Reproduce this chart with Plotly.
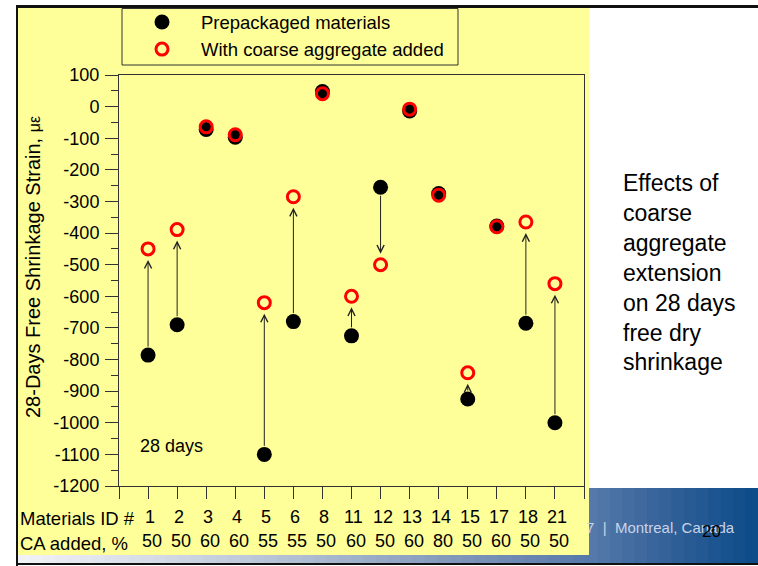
import plotly.graph_objects as go

# ---------------- data ----------------
material_ids = ['1', '2', '3', '4', '5', '6', '8', '11', '12', '13', '14', '15', '17', '18', '21']
ca_added = ['50', '50', '60', '60', '55', '55', '50', '60', '50', '60', '80', '50', '60', '50', '50']
prepackaged = [-786, -690, -72, -97, -1100, -680, 48, -725, -255, -14, -275, -925, -378, -685, -1000]
with_ca = [-450, -389, -64, -89, -620, -285, 41, -600, -500, -8, -280, -842, -380, -365, -560]
y_ticks = list(range(-1200, 101, 100))
y_ticktext = [str(v).replace('\u2212', '-') for v in y_ticks]

positions = list(range(1, len(material_ids) + 1))

W, H = 758, 566
L, R, T, B = 119, 174, 75, 80
PW, PH = W - L - R, H - T - B


def xp(px):
    return (px - L) / PW


def yp(py):
    return (H - B - py) / PH


fig = go.Figure()

fig.add_trace(go.Scatter(
    x=positions, y=prepackaged, mode='markers', name='Prepackaged materials',
    marker=dict(symbol='circle', size=15, color='black', line=dict(width=0)),
))
fig.add_trace(go.Scatter(
    x=positions, y=with_ca, mode='markers', name='With coarse aggregate added',
    marker=dict(symbol='circle', size=12, color='rgba(0,0,0,0)',
                line=dict(color='#FF0000', width=3)),
))

annotations = []
# arrows from prepackaged to with-CA values
for xi, a, b in zip(positions, prepackaged, with_ca):
    if abs(a - b) > 40:
        annotations.append(dict(
            x=xi, y=b, ax=xi, ay=a, xref='x', yref='y', axref='x', ayref='y',
            showarrow=True, arrowhead=5, arrowsize=1.4, arrowwidth=1,
            arrowcolor='#222222', standoff=11, startstandoff=7, text=''))

# x labels rows
annotations.append(dict(x=xp(18), y=yp(518), xref='paper', yref='paper', text='Materials ID #',
                        showarrow=False, xanchor='left', yanchor='middle',
                        font=dict(size=18.5, color='black')))
annotations.append(dict(x=xp(18), y=yp(543), xref='paper', yref='paper', text='CA added, %',
                        showarrow=False, xanchor='left', yanchor='middle',
                        font=dict(size=18.5, color='black')))
for xi, mid, ca in zip(positions, material_ids, ca_added):
    annotations.append(dict(x=xi, y=yp(517), xref='x', yref='paper', text=mid, xshift=2,
                            showarrow=False, xanchor='center', yanchor='middle',
                            font=dict(size=18, color='black')))
    annotations.append(dict(x=xi, y=yp(541), xref='x', yref='paper', text=ca, xshift=4,
                            showarrow=False, xanchor='center', yanchor='middle',
                            font=dict(size=18, color='black')))

# y axis title
annotations.append(dict(x=xp(33), y=yp(267), xref='paper', yref='paper',
                        text="28-Days Free Shrinkage Strain, <span style='font-size:16px'>με</span>",
                        textangle=-90, showarrow=False, xanchor='center', yanchor='middle',
                        font=dict(size=20, color='black')))

# in-plot label
annotations.append(dict(x=1.8, y=-1075, xref='x', yref='y', text='28 days', showarrow=False,
                        font=dict(size=18, color='black')))

# right side text
annotations.append(dict(x=xp(621), y=yp(272), xref='paper', yref='paper',
                        text='Effects of<br>coarse<br>aggregate<br>extension<br>on 28 days<br>free dry<br>shrinkage',
                        showarrow=False, xanchor='left', yanchor='middle', align='left',
                        font=dict(size=23, color='black')))

# footer texts
annotations.append(dict(x=xp(584), y=yp(527), xref='paper', yref='paper',
                        text='7  |  Montreal, Canada', showarrow=False, xanchor='left',
                        yanchor='middle', font=dict(size=15, color='#C9D3E6')))
annotations.append(dict(x=xp(711), y=yp(531), xref='paper', yref='paper', text='20',
                        showarrow=False, xanchor='center', yanchor='middle',
                        font=dict(size=17, color='black')))

shapes = []
# footer gradient banner
stops = [(18, (242, 243, 246)), (150, (214, 220, 231)), (300, (176, 190, 210)),
         (450, (131, 152, 186)), (590, (86, 121, 170)), (680, (45, 93, 150)), (758, (10, 74, 136))]
n = 60
for i in range(n):
    x0 = 18 + (758 - 18) * i / n
    x1 = 18 + (758 - 18) * (i + 1) / n
    xm = (x0 + x1) / 2
    for (pa, ca_), (pb, cb) in zip(stops[:-1], stops[1:]):
        if pa <= xm <= pb:
            t = (xm - pa) / (pb - pa)
            c = tuple(int(round(ca_[k] + (cb[k] - ca_[k]) * t)) for k in range(3))
            break
    shapes.append(dict(type='rect', xref='paper', yref='paper', x0=xp(x0), x1=xp(x1) + 0.002,
                       y0=yp(563), y1=yp(488), fillcolor='rgb(%d,%d,%d)' % c,
                       line=dict(width=0), layer='below'))
# yellow slide panel
shapes.append(dict(type='rect', xref='paper', yref='paper', x0=xp(18), x1=xp(589),
                   y0=yp(555), y1=yp(8), fillcolor='#FFFF99', line=dict(width=0), layer='below'))
# legend frame
shapes.append(dict(type='rect', xref='paper', yref='paper', x0=xp(122), x1=xp(458),
                   y0=yp(65), y1=yp(8.5), fillcolor='rgba(0,0,0,0)',
                   line=dict(color='#333333', width=1), layer='above'))
# slide border lines
shapes.append(dict(type='line', xref='paper', yref='paper', x0=xp(16), x1=xp(758),
                   y0=yp(6.5), y1=yp(6.5), line=dict(color='#111111', width=3), layer='above'))
shapes.append(dict(type='line', xref='paper', yref='paper', x0=xp(17), x1=xp(17),
                   y0=yp(6), y1=yp(566), line=dict(color='#111111', width=2), layer='above'))
shapes.append(dict(type='line', xref='paper', yref='paper', x0=xp(16), x1=xp(758),
                   y0=yp(564), y1=yp(564), line=dict(color='#111111', width=2), layer='above'))

fig.update_layout(
    width=W, height=H,
    margin=dict(l=L, r=R, t=T, b=B, pad=0, autoexpand=False),
    paper_bgcolor='white',
    plot_bgcolor='rgba(0,0,0,0)',
    font=dict(family='Liberation Sans, Arial, sans-serif', color='black'),
    showlegend=True,
    legend=dict(x=xp(123), y=yp(3.5), xanchor='left', yanchor='top',
                bgcolor='rgba(0,0,0,0)', borderwidth=0,
                font=dict(size=18.5, color='black'), itemwidth=68, tracegroupgap=0),
    annotations=annotations,
    shapes=shapes,
    xaxis=dict(range=[0, 16], tickvals=list(range(0, 17)), showticklabels=False,
               ticks='outside', ticklen=12, tickcolor='#333333', tickwidth=1,
               showline=True, linecolor='#333333', linewidth=1, mirror=True,
               showgrid=False, zeroline=False),
    yaxis=dict(range=[-1200, 100], tickvals=y_ticks, ticktext=y_ticktext,
               ticks='outside', ticklen=13, tickcolor='#333333', tickwidth=1,
               minor=dict(dtick=50, ticks='outside', ticklen=7, tickcolor='#333333', tickwidth=1),
               showline=True, linecolor='#333333', linewidth=1, mirror=True,
               showgrid=False, zeroline=False, ticklabelstandoff=2,
               tickfont=dict(size=18, color='black')),
)

fig.write_html('out.html')
